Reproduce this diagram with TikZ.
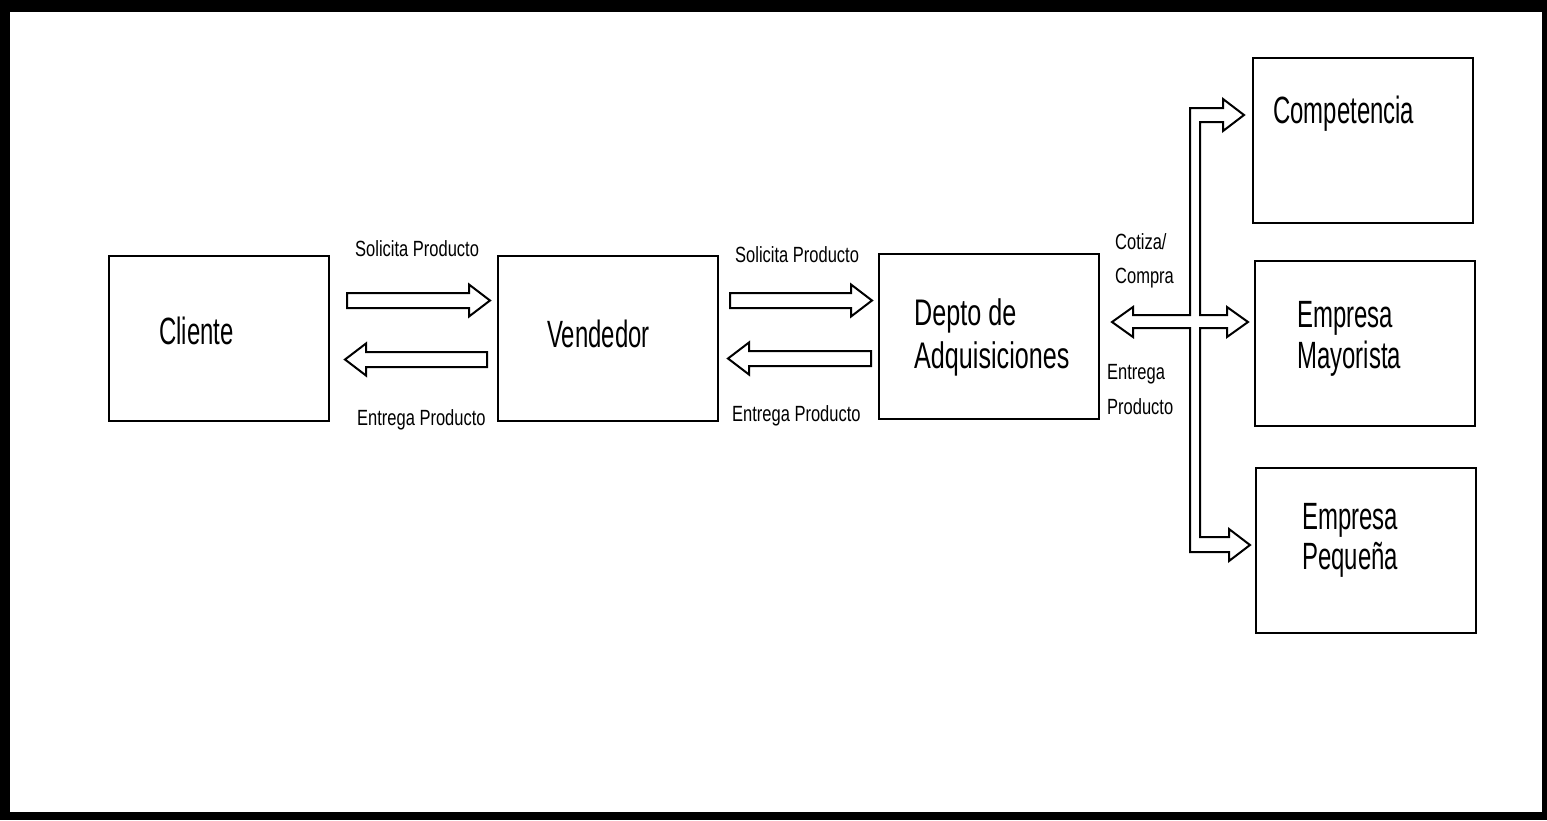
\documentclass[tikz,border=0pt]{standalone}
\usepackage{fontspec}
\usetikzlibrary{calc}
\newfontfamily\bigf[FakeStretch=0.63]{Liberation Sans}
\newfontfamily\depf[FakeStretch=0.68]{Liberation Sans}
\newfontfamily\smf[FakeStretch=0.75]{Liberation Sans}
\newcommand{\rblk}[2]{%
  \draw[blk] let \p1=(#1), \p2=(#2) in
    (\x1,\y1+7.5pt) -- (\x2-21pt,\y1+7.5pt) -- (\x2-21pt,\y1+16pt) -- (\x2,\y1)
    -- (\x2-21pt,\y1-16pt) -- (\x2-21pt,\y1-7.5pt) -- (\x1,\y1-7.5pt) -- cycle;}
\newcommand{\lblk}[2]{%
  \draw[blk] let \p1=(#1), \p2=(#2) in
    (\x1,\y1+7.5pt) -- (\x2+21pt,\y1+7.5pt) -- (\x2+21pt,\y1+16pt) -- (\x2,\y1)
    -- (\x2+21pt,\y1-16pt) -- (\x2+21pt,\y1-7.5pt) -- (\x1,\y1-7.5pt) -- cycle;}
\tikzset{
  box/.style={draw=black, line width=2pt, fill=white, outer sep=0pt, inner sep=0pt,
    minimum width=220pt, minimum height=165pt},
  blk/.style={draw=black, line width=2pt, fill=white, line join=miter},
  big/.style={anchor=base west, inner sep=0pt, font=\bigf\fontsize{38}{42}\selectfont},
  dep/.style={anchor=base west, inner sep=0pt, font=\depf\fontsize{37}{42}\selectfont},
  sm/.style={anchor=base west, inner sep=0pt, font=\smf\fontsize{22}{26}\selectfont},
}
\begin{document}
\begin{tikzpicture}[x=1pt,y=-1pt]
\useasboundingbox (0,0) rectangle (1547,820);
\fill[black] (0,0) rectangle (1547,820);
\fill[white] (10,12) rectangle (1542,812);

% boxes
\node[box] (cli) at (219,338.5) {};
\node[box] (ven) at (608,338.5) {};
\node[box] (dep) at (989,336.5) {};
\node[box] (com) at (1363,140.5) {};
\node[box] (may) at (1365,343.5) {};
\node[box] (peq) at (1366,550.5) {};

% box texts
\node[big] (tcli) at (159,344) {Cliente};
\node[big] (tven) at (547,347) {Vendedor};
\node[dep] (tdep1) at (914,325) {Depto de};
\node[dep] (tdep2) at (914,368) {Adquisiciones};
\node[big] (tcom) at (1273,123) {Competencia};
\node[big] (tmay1) at (1297,327) {Empresa};
\node[big] (tmay2) at (1297,368) {Mayorista};
\node[big] (tpeq1) at (1302,529) {Empresa};
\node[big] (tpeq2) at (1302,569) {Pequeña};

% horizontal block arrows
\coordinate (a1t) at ($(cli.east)+(18,-38)$);
\coordinate (a1h) at ($(ven.west)+(-8,-38)$);
\coordinate (a2h) at ($(cli.east)+(16,21)$);
\coordinate (a2t) at ($(ven.west)+(-11,21)$);
\coordinate (a3t) at ($(ven.east)+(12,-38)$);
\coordinate (a3h) at ($(dep.west)+(-7,-36)$);
\coordinate (a4h) at ($(ven.east)+(10,20)$);
\coordinate (a4t) at ($(dep.west)+(-8,22)$);
\rblk{a1t}{a1h}
\lblk{a2t}{a2h}
\rblk{a3t}{a3h}
\lblk{a4t}{a4h}

% branching block arrow
\coordinate (bl) at ($(dep.east)+(13,-14.5)$);
\coordinate (bc) at ($(com.west)+(-9,-25.5)$);
\coordinate (bm) at ($(may.west)+(-7,-21.5)$);
\coordinate (bp) at ($(peq.west)+(-6,-5.5)$);
\draw[blk] (bl) -- (1133,307) -- (1133,315) -- (1190,315) -- (1190,108)
  -- (1223,108) -- (1223,99) -- (bc) -- (1223,131) -- (1223,122)
  -- (1200,122) -- (1200,315) -- (1227,315) -- (1227,307) -- (bm)
  -- (1227,337) -- (1227,328) -- (1200,328) -- (1200,537) -- (1229,537)
  -- (1229,529) -- (bp) -- (1229,561) -- (1229,552) -- (1190,552)
  -- (1190,328) -- (1133,328) -- (1133,337) -- cycle;

% labels
\node[sm] (l1) at (355,256) {Solicita Producto};
\node[sm] (l2) at (357,425) {Entrega Producto};
\node[sm] (l3) at (735,262) {Solicita Producto};
\node[sm] (l4) at (732,421) {Entrega Producto};
\node[sm] (l5) at (1115,249) {Cotiza/};
\node[sm] (l6) at (1115,283) {Compra};
\node[sm] (l7) at (1107,379) {Entrega};
\node[sm] (l8) at (1107,414) {Producto};
\end{tikzpicture}
\end{document}
